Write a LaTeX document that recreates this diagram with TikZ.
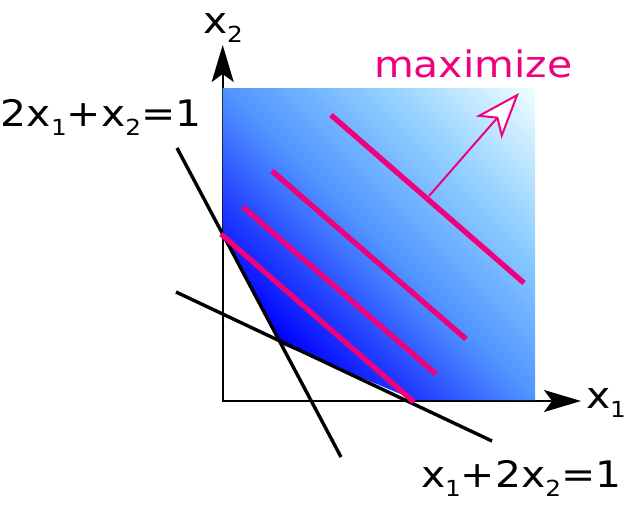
\documentclass[tikz,border=0pt]{standalone}
\usepackage{fontspec}
\setmainfont{DejaVu Sans}
\usetikzlibrary{arrows.meta}
\definecolor{mag}{RGB}{240,0,125}
\definecolor{gA}{RGB}{0,0,255}
\definecolor{gB}{RGB}{80,148,255}
\definecolor{gC}{RGB}{145,208,255}
\definecolor{gD}{RGB}{240,254,255}
\pgfdeclarehorizontalshading{feas}{100bp}{color(0bp)=(gA); color(27.8bp)=(gA); color(50bp)=(gB); color(67.7bp)=(gC); color(85.4bp)=(gD); color(100bp)=(gD)}
\newcommand{\sbs}[1]{\raisebox{-0.27em}{\fontsize{22.1}{22}\selectfont #1}}
\newcommand{\lbl}[1]{\scalebox{1.12}[1]{\fontsize{36.5}{40}\selectfont #1}}
\tikzset{
  axisline/.style={line width=2pt, line join=miter, {Stealth[length=37pt,width=22pt,inset=8pt]}-{Stealth[length=37pt,width=22pt,inset=8pt]}},
  constraint/.style={line width=3.4pt, black},
  objline/.style={line width=5.3pt, mag},
  maxarrow/.style={line width=2pt, mag, -{Stealth[length=46pt,width=34pt,inset=12pt,fill=white]}},
  lab/.style={anchor=base west, inner sep=0pt, outer sep=0pt}
}
\begin{document}
\begin{tikzpicture}[x=1pt,y=-1pt]
\useasboundingbox (0,0) rectangle (638,509);
% axes
\coordinate (O) at (222.7,401);
\coordinate (ytip) at (222.7,45);
\coordinate (xtip) at (581,401);
\draw[axisline] (ytip) -- (O) -- (xtip);
% feasible region
\coordinate (r1) at (222.7,233);
\coordinate (r2) at (283,345);
\coordinate (r3) at (415,400);
\coordinate (r4) at (535,400);
\coordinate (r5) at (535,88);
\coordinate (r6) at (222.7,88);
\shade[shading=feas, shading angle=45] (r1) -- (r2) -- (r3) -- (r4) -- (r5) -- (r6) -- cycle;
% constraints
\coordinate (c1a) at (177,148);
\coordinate (c1b) at (341,457);
\coordinate (c2a) at (176,292);
\coordinate (c2b) at (492,441);
\draw[constraint] (c1a) -- (c1b);
\draw[constraint] (c2a) -- (c2b);
% objective lines
\coordinate (m1a) at (221,234);  \coordinate (m1b) at (414,402);
\coordinate (m2a) at (243,207);  \coordinate (m2b) at (436,374);
\coordinate (m3a) at (272,171);  \coordinate (m3b) at (466,339);
\coordinate (m4a) at (331,115);  \coordinate (m4b) at (524,283);
\draw[objline] (m1a) -- (m1b);
\draw[objline] (m2a) -- (m2b);
\draw[objline] (m3a) -- (m3b);
\draw[objline] (m4a) -- (m4b);
% maximize arrow
\coordinate (a0) at (429,196);
\coordinate (a1) at (519,93);
\draw[maxarrow] (a0) -- (a1);
% labels
\node[lab] (lx2) at (203,33) {\lbl{x\sbs{2}}};
\node[lab] (lx1) at (586,408) {\lbl{x\sbs{1}}};
\node[lab] (leq1) at (1,126) {\lbl{2x\sbs{1}+x\sbs{2}=1}};
\node[lab] (leq2) at (421,487) {\lbl{x\sbs{1}+2x\sbs{2}=1}};
\node[lab, text=mag] (lmax) at (374,77.5) {\lbl{maximize}};
\end{tikzpicture}
\end{document}
